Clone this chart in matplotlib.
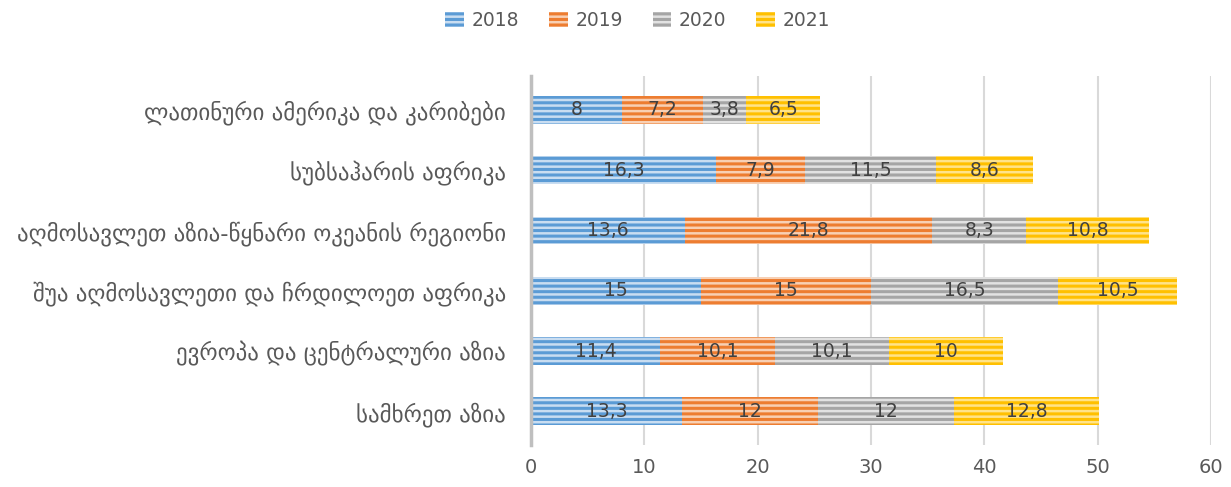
import matplotlib
matplotlib.use("Agg")
import matplotlib.pyplot as plt
import numpy as np

plt.rcParams['font.family'] = ['DejaVu Sans']
plt.rcParams['hatch.linewidth'] = 2.2

categories = [
    "ლათინური ამერიკა და კარიბები",
    "სუბსაჰარის აფრიკა",
    "აღმოსავლეთ აზია-წყნარი ოკეანის რეგიონი",
    "შუა აღმოსავლეთი და ჩრდილოეთ აფრიკა",
    "ევროპა და ცენტრალური აზია",
    "სამხრეთ აზია",
]
years = ["2018", "2019", "2020", "2021"]
v2018 = [8, 16.3, 13.6, 15, 11.4, 13.3]
v2019 = [7.2, 7.9, 21.8, 15, 10.1, 12]
v2020 = [3.8, 11.5, 8.3, 16.5, 10.1, 12]
v2021 = [6.5, 8.6, 10.8, 10.5, 10, 12.8]
series = [v2018, v2019, v2020, v2021]
xticks = [0, 10, 20, 30, 40, 50, 60]

base_colors = ["#5B9BD5", "#ED7D31", "#A5A5A5", "#FFC000"]
light_colors = ["#C9DDF1", "#F8D0B4", "#E2E2E2", "#FFE38A"]

fig = plt.figure(figsize=(12.31, 4.87), dpi=100)
ax = fig.add_axes([0.4314, 0.086, 0.5524, 0.758])

y = np.arange(len(categories))
left = np.zeros(len(categories))
txt = "#404040"
for vals, yr, bc, lc in zip(series, years, base_colors, light_colors):
    vals = np.array(vals, dtype=float)
    cont = ax.barh(y, vals, left=left, height=0.46, color=lc, edgecolor=bc,
                   hatch='---', linewidth=0, label=yr, zorder=3)
    labels = [("%g" % v).replace(".", ",") for v in vals]
    ax.bar_label(cont, labels=labels, label_type='center', fontsize=13.5,
                 color=txt, zorder=4)
    left += vals

ax.set_ylim(len(categories) - 0.44, -0.56)
ax.set_xlim(0, 60)
ax.set_xticks(xticks)
ax.set_yticks(y)
ax.set_yticklabels(categories, fontsize=16.5)
ax.tick_params(axis='both', length=0, colors="#595959")
ax.tick_params(axis='x', labelsize=14)
ax.tick_params(axis='y', pad=18)
ax.tick_params(axis='x', pad=9)
ax.grid(axis='x', color="#D9D9D9", linewidth=1.5, zorder=0)
for s in ['top', 'right', 'bottom']:
    ax.spines[s].set_visible(False)
ax.spines['left'].set_color("#BFBFBF")
ax.spines['left'].set_linewidth(2.5)
ax.spines['left'].set_zorder(5)

leg = fig.legend(loc='center', bbox_to_anchor=(0.518, 0.958), ncol=4,
                 frameon=False, fontsize=13.5, handlelength=1.0, handleheight=0.8,
                 columnspacing=1.6, handletextpad=0.4)
for t in leg.get_texts():
    t.set_color("#595959")

fig.savefig("out.png", dpi=100)
